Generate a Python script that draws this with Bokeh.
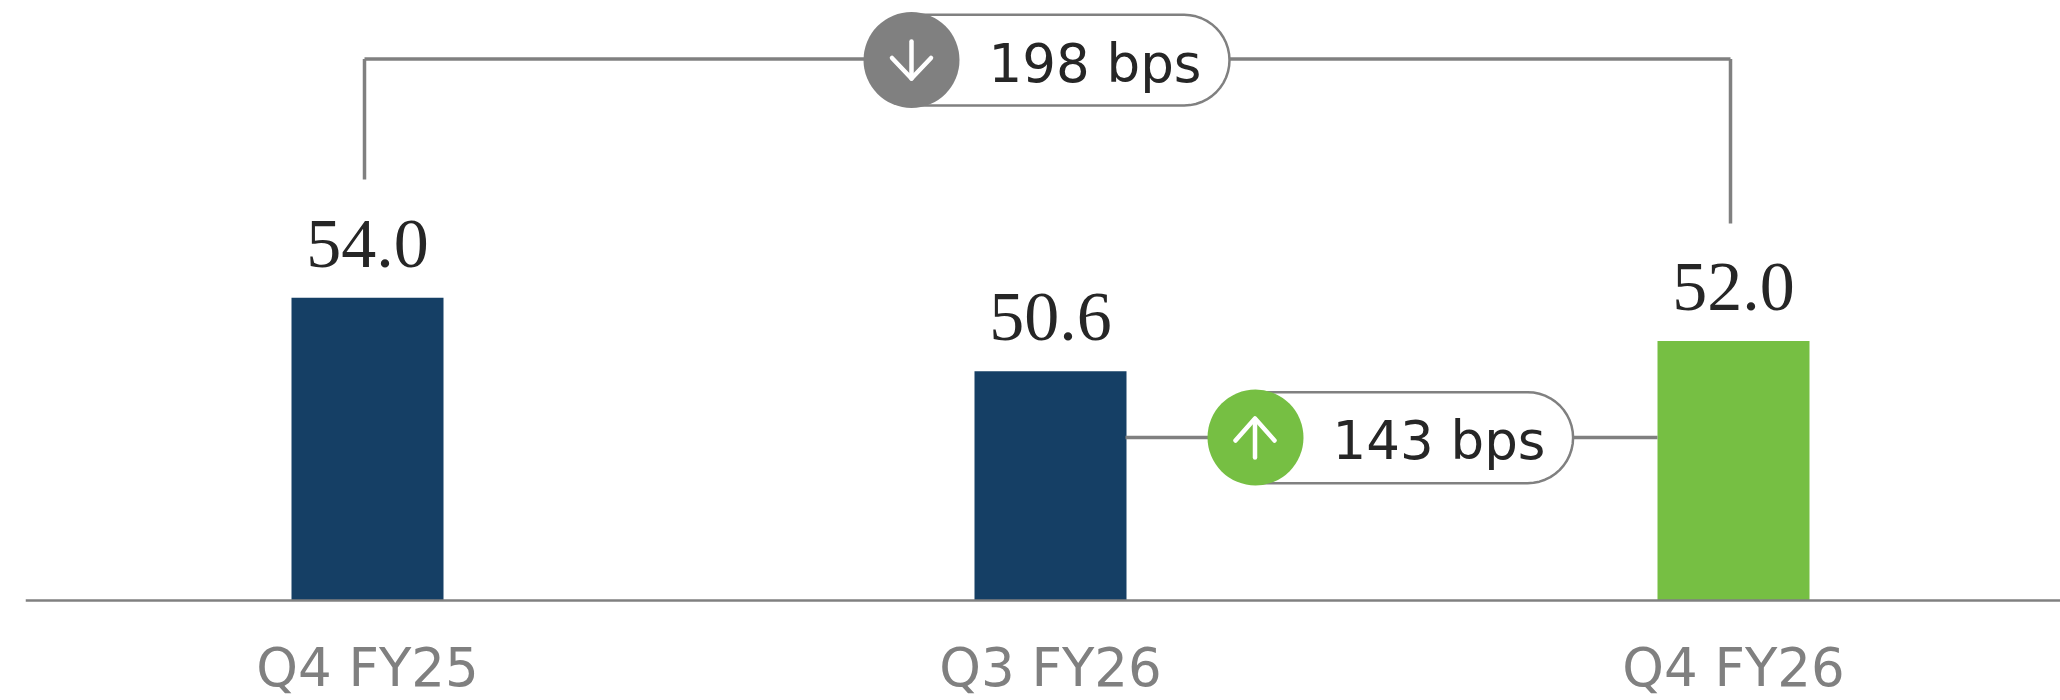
import math
from bokeh.plotting import figure
from bokeh.models import Range1d, FixedTicker, ColumnDataSource
from bokeh.core.properties import value
from bokeh.embed import file_html
from bokeh.resources import INLINE

categories = ["Q4 FY25", "Q3 FY26", "Q4 FY26"]
values = [54.0, 50.6, 52.0]
value_labels = ["54.0", "50.6", "52.0"]
bar_colors = ["#153F65", "#153F65", "#76BF43"]
change_labels = ["198 bps", "143 bps"]

W, H = 2060, 700
FRAME_L, BASE_Y = 25, 599.7
C0, STEP, BAR_PX = 367, 683, 152
PX_PER_UNIT = 21.6
Y_BASE = 40
GREY, DARK = "#808080", "#262626"


def X(px):
    return (px - C0) / STEP


def Y(py):
    return Y_BASE + (BASE_Y - py) / PX_PER_UNIT


p = figure(
    width=W, height=H, output_backend="svg", toolbar_location=None,
    x_range=Range1d(X(FRAME_L), X(W)),
    y_range=Range1d(Y(H), Y(0)),
    min_border_left=FRAME_L, min_border_right=0, min_border_top=0, min_border_bottom=0,
    outline_line_color=None, background_fill_color="white", border_fill_color="white",
)
p.grid.visible = False
p.yaxis.visible = False
ax = p.xaxis[0]
ax.fixed_location = Y_BASE
ax.ticker = FixedTicker(ticks=list(range(len(categories))))
ax.major_label_overrides = {i: c for i, c in enumerate(categories)}
ax.major_tick_line_color = None
ax.minor_tick_line_color = None
ax.axis_line_color = GREY
ax.axis_line_width = 2.5
ax.major_label_text_color = GREY
ax.major_label_text_font = "DejaVu Sans"
ax.major_label_text_font_size = "53px"
ax.major_label_standoff = 31

xs = list(range(len(categories)))
src = ColumnDataSource(dict(x=xs, top=values, label=value_labels, color=bar_colors))
p.vbar(x="x", top="top", bottom=Y_BASE, width=BAR_PX / STEP, source=src,
       fill_color="color", line_color=None)
p.text(x="x", y="top", text="label", source=src, y_offset=-54,
       text_font=value("Liberation Serif"), text_font_size="70px", text_color=DARK,
       text_align="center", text_baseline="alphabetic")


def pill_points(left, right, top, bottom, n=24):
    r = (bottom - top) / 2
    cy = (top + bottom) / 2
    pts = []
    for i in range(n + 1):
        a = -math.pi / 2 + math.pi * i / n
        pts.append((right - r + r * math.cos(a), cy + r * math.sin(a)))
    pts.append((left, bottom))
    pts.append((left, top))
    return [X(a) for a, _ in pts], [Y(b) for _, b in pts]


def connector(segs):
    p.multi_line([[X(a), X(c)] for a, _, c, _ in segs],
                 [[Y(b), Y(d)] for _, b, _, d in segs],
                 line_color=GREY, line_width=3.5)


def badge(cx, cy, pill_right, pill_top, pill_bottom, color, label, tx, ty, arrow):
    px, py = pill_points(cx, pill_right, pill_top, pill_bottom)
    p.patch(px, py, fill_color="white", line_color=GREY, line_width=2.5)
    p.scatter([X(cx)], [Y(cy)], size=96, marker="circle", fill_color=color, line_color=None)
    p.multi_line([[X(a) for a, _ in s] for s in arrow], [[Y(b) for _, b in s] for s in arrow],
                 line_color="white", line_width=4.5, line_cap="round", line_join="round")
    p.text([X(tx)], [Y(ty)], text=[label], text_font=value("DejaVu Sans"), text_font_size="53px",
           text_color=DARK, text_align="left", text_baseline="alphabetic")


# 198 bps: Q4 FY25 to Q4 FY26
connector([(364, 179, 364, 58.5), (364, 58.5, 865, 58.5),
           (1229, 58.5, 1730, 58.5), (1730, 58.5, 1730, 223)])
badge(911, 59.5, 1229, 14.3, 105, GREY, change_labels[0], 988, 62.5,
      [[(911, 41), (911, 78)], [(891.5, 57.5), (911, 78), (930.5, 57.5)]])

# 143 bps: Q3 FY26 to Q4 FY26
connector([(1125, 437, 1209, 437), (1573, 437, 1657, 437)])
badge(1255, 437, 1572.6, 391.7, 482.7, "#76BF43", change_labels[1], 1332, 440,
      [[(1254.5, 457), (1254.5, 419)], [(1235, 440), (1254.5, 418), (1274, 440)]])

open("out.html", "w").write(file_html(p, INLINE))
